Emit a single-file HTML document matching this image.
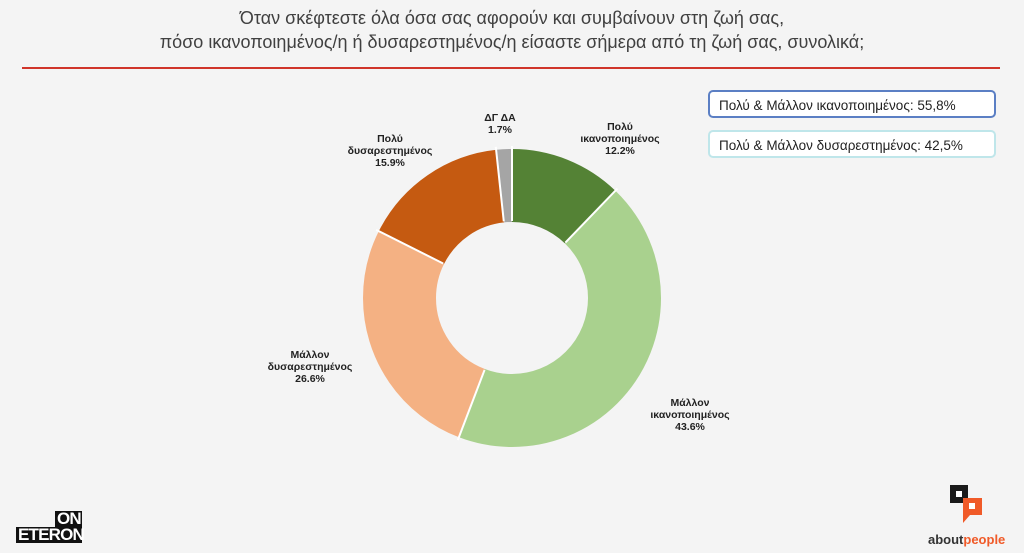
<!DOCTYPE html>
<html><head><meta charset="utf-8"><style>
body{margin:0;width:1024px;height:553px;background:#f4f4f4;font-family:"Liberation Sans",sans-serif;position:relative;overflow:hidden}
.t{position:absolute;left:0;width:1024px;text-align:center;font-size:18px;color:#404040}
.box{position:absolute;left:708px;width:288px;height:28px;background:#fff;border-radius:5px;font-size:13.5px;line-height:28px;padding-left:9px;box-sizing:border-box;color:#222}
.l{position:absolute;font-size:10.5px;font-weight:bold;text-align:center;color:#222;line-height:12px}
.lg{position:absolute;background:#111;color:#fff;font-weight:bold;font-size:17px;line-height:16px;height:16px;letter-spacing:-0.8px;box-sizing:border-box}
</style></head><body>
<div class="t" style="top:8px">Όταν σκέφτεστε όλα όσα σας αφορούν και συμβαίνουν στη ζωή σας,</div>
<div class="t" style="top:32px">πόσο ικανοποιημένος/η ή δυσαρεστημένος/η είσαστε σήμερα από τη ζωή σας, συνολικά;</div>
<div style="position:absolute;left:22px;top:67px;width:978px;height:2px;background:#d0352a"></div>
<div class="box" style="top:90px;border:2px solid #5b7fc4">Πολύ &amp; Μάλλον ικανοποιημένος: 55,8%</div>
<div class="box" style="top:130px;border:2px solid #bfe6ea">Πολύ &amp; Μάλλον δυσαρεστημένος: 42,5%</div>
<svg width="1024" height="553" style="position:absolute;left:0;top:0">
<g transform="rotate(-90 512 298)" fill="none" stroke-width="73">
<circle cx="512" cy="298" r="112.5" stroke="#548235" stroke-dasharray="86.24 706.86" stroke-dashoffset="0"/>
<circle cx="512" cy="298" r="112.5" stroke="#a9d18e" stroke-dasharray="308.19 706.86" stroke-dashoffset="-86.24"/>
<circle cx="512" cy="298" r="112.5" stroke="#f4b183" stroke-dasharray="188.02 706.86" stroke-dashoffset="-394.43"/>
<circle cx="512" cy="298" r="112.5" stroke="#c55a11" stroke-dasharray="112.39 706.86" stroke-dashoffset="-582.45"/>
<circle cx="512" cy="298" r="112.5" stroke="#a5a5a5" stroke-dasharray="12.02 706.86" stroke-dashoffset="-694.84"/>
</g>
<g stroke="#fff" stroke-width="2">
<line x1="512" y1="221" x2="512" y2="146"/>
<line x1="512" y1="221" x2="512" y2="146" transform="rotate(43.92 512 298)"/>
<line x1="512" y1="221" x2="512" y2="146" transform="rotate(200.88 512 298)"/>
<line x1="512" y1="221" x2="512" y2="146" transform="rotate(296.64 512 298)"/>
<line x1="512" y1="221" x2="512" y2="146" transform="rotate(353.88 512 298)"/>
</g>
<rect x="950" y="485" width="18" height="18" fill="#1a1a1a"/><rect x="956" y="491" width="6" height="6" fill="#fff"/>
<rect x="963" y="498" width="19" height="17" fill="#f05a28"/><rect x="969" y="503" width="6" height="6" fill="#fff"/>
<polygon points="963,515 963,523 970,515" fill="#f05a28"/>
</svg>
<div class="l" style="left:580px;top:121px;width:80px">Πολύ<br>ικανοποιημένος<br>12.2%</div>
<div class="l" style="left:470px;top:112px;width:60px">ΔΓ ΔΑ<br>1.7%</div>
<div class="l" style="left:340px;top:133px;width:100px">Πολύ<br>δυσαρεστημένος<br>15.9%</div>
<div class="l" style="left:260px;top:349px;width:100px">Μάλλον<br>δυσαρεστημένος<br>26.6%</div>
<div class="l" style="left:640px;top:397px;width:100px">Μάλλον<br>ικανοποιημένος<br>43.6%</div>
<div class="lg" style="left:16px;top:527px;width:66px;padding-left:2px">ETERON</div>
<div class="lg" style="left:55px;top:511px;width:27px;padding-left:2px">ON</div>
<div style="position:absolute;left:928px;top:532px;font-size:13px;font-weight:bold;color:#333">about<span style="color:#f05a28">people</span></div>
</body></html>
